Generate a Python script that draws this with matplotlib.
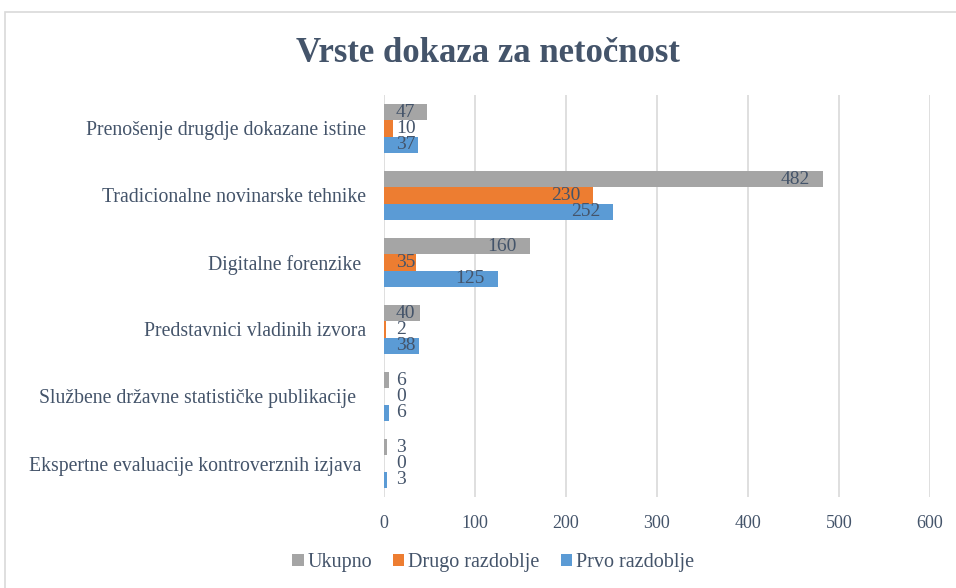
import matplotlib
matplotlib.use('Agg')
import matplotlib.pyplot as plt
import numpy as np
from matplotlib.patches import Rectangle

plt.rcParams['font.family'] = ['Liberation Serif', 'DejaVu Serif']

# podaci
kategorije = ['Prenošenje drugdje dokazane istine',
              'Tradicionalne novinarske tehnike',
              'Digitalne forenzike ',
              'Predstavnici vladinih izvora',
              'Službene državne statističke publikacije  ',
              'Ekspertne evaluacije kontroverznih izjava ']
ukupno = [47, 482, 160, 40, 6, 3]
drugo = [10, 230, 35, 2, 0, 0]
prvo = [37, 252, 125, 38, 6, 3]
x_ticks = [0, 100, 200, 300, 400, 500, 600]

tekst = '#44546A'
boje = {'Ukupno': '#A5A5A5', 'Drugo razdoblje': '#ED7D31', 'Prvo razdoblje': '#5B9BD5'}

fig = plt.figure(figsize=(9.56, 5.88), dpi=100)
fig.patches.append(Rectangle((5 / 956, -0.01), 1.0, 1 - 12 / 588 + 0.01,
                             transform=fig.transFigure, fill=False,
                             edgecolor='#D9D9D9', linewidth=1.2))
ax = fig.add_axes([384 / 956, 1 - 497 / 588, (930 - 384) / 956, (497 - 95) / 588])

y = np.arange(len(kategorije))
h = 0.245
serije = [('Ukupno', ukupno, -h), ('Drugo razdoblje', drugo, 0), ('Prvo razdoblje', prvo, h)]
bar_sets = []
for naziv, vals, off in serije:
    b = ax.barh(y + off, vals, height=h, color=boje[naziv], label=naziv, zorder=3)
    bar_sets.append((b, vals))

ax.set_xlim(0, 600)
ax.set_ylim(len(kategorije) - 0.5, -0.5)
ax.set_xticks(x_ticks)
ax.set_xticklabels([str(t) for t in x_ticks], fontsize=13, color=tekst)
ax.set_yticks(y)
ax.set_yticklabels(kategorije, fontsize=14.2, color=tekst)
ax.tick_params(axis='both', length=0)
ax.tick_params(axis='y', pad=13)
ax.tick_params(axis='x', pad=13)
ax.grid(axis='x', color='#D9D9D9', linewidth=1.2, zorder=0)
for s in ax.spines.values():
    s.set_visible(False)

# oznake vrijednosti: unutar kraja trake, ali ne lijevo od osi
fig.canvas.draw()
r = fig.canvas.get_renderer()
x0_px = ax.transData.transform((0, 0))[0]
for b, vals in bar_sets:
    for rect, v in zip(b, vals):
        yc = rect.get_y() + rect.get_height() / 2
        t = ax.annotate(str(v), xy=(v, yc), xytext=(-13, 0), textcoords='offset pixels',
                        ha='right', va='center', fontsize=14, color=tekst, zorder=5)
        bb = t.get_window_extent(r)
        if bb.x0 < x0_px + 12:
            t.remove()
            ax.annotate(str(v), xy=(0, yc), xytext=(12, 0), textcoords='offset pixels',
                        ha='left', va='center', fontsize=14, color=tekst, zorder=5)

fig.text(0.51, 1 - 53 / 588, 'Vrste dokaza za netočnost', ha='center', va='center',
         fontsize=25, fontweight='bold', color=tekst)

fig.legend(loc='center', bbox_to_anchor=(0.516, 1 - 563 / 588), ncol=3, frameon=False,
           fontsize=14.5, handlelength=0.55, handleheight=0.55, handletextpad=0.2,
           columnspacing=1.05, labelcolor=tekst)

fig.savefig('out.png', dpi=100)
